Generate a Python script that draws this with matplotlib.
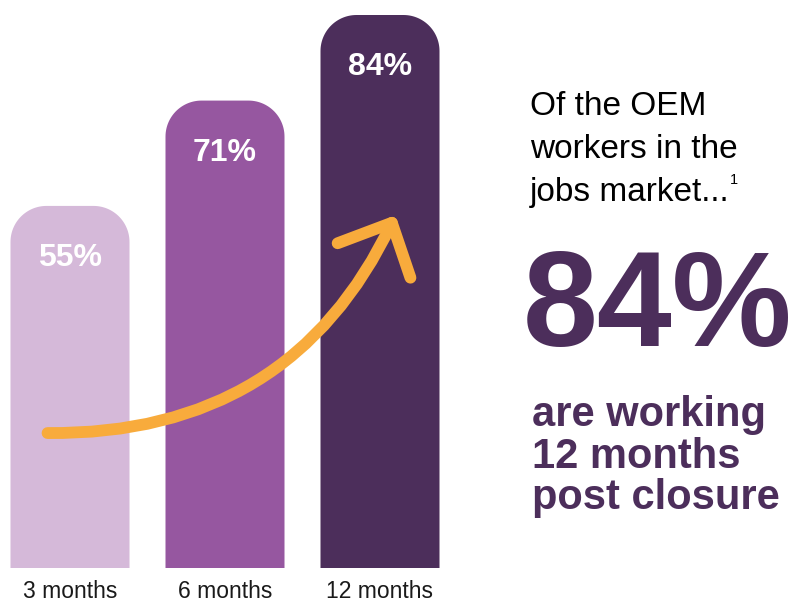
import numpy as np
import matplotlib
matplotlib.use("Agg")
import matplotlib.pyplot as plt
from matplotlib.patches import Polygon

# datos
periodos = ["3 months", "6 months", "12 months"]
porcentajes = [55, 71, 84]
colores = ["#D5B9D9", "#9657A0", "#4C2E5B"]
titulo_lineas = ["Of the OEM", "workers in the", "jobs market..."]
nota = "1"
cifra_destacada = "84%"
pie_lineas = ["are working", "12 months", "post closure"]

MORADO = "#4C2E5B"
NARANJA = "#F8AB3C"
FUENTE = ["Liberation Sans", "DejaVu Sans"]

W, H = 796, 602
fig = plt.figure(figsize=(W / 100, H / 100), dpi=100)

# eje de barras: 0% en y=568 px, 84% en y=15 px
x_izq, x_der = -70 / 155, (460 - 70) / 155
ax = fig.add_axes([0, (H - 568) / H, 460 / W, (568 - 15) / H])
ax.set_xlim(x_izq, x_der)
ax.set_ylim(0, 84)
ax.axis("off")

ancho = 119 / 155
px_x = 460 / (x_der - x_izq)
px_y = (568 - 15) / 84


def barra_redondeada(ax, x, alto, ancho, color, radio_px=36):
    """Barra con las esquinas superiores redondeadas"""
    rx = radio_px / px_x
    ry = radio_px / px_y
    izq, der = x - ancho / 2, x + ancho / 2
    t = np.linspace(0, np.pi / 2, 30)
    # esquina derecha (de 0 a 90 grados) y luego la izquierda
    der_x = der - rx + rx * np.cos(t)
    der_y = alto - ry + ry * np.sin(t)
    izq_x = izq + rx - rx * np.cos(t[::-1])
    izq_y = alto - ry + ry * np.sin(t[::-1])
    xs = np.concatenate([[der], der_x, izq_x, [izq]])
    ys = np.concatenate([[0], der_y, izq_y, [0]])
    ax.add_patch(Polygon(np.column_stack([xs, ys]), closed=True,
                         facecolor=color, edgecolor="none", clip_on=False))


for i, (periodo, valor, color) in enumerate(zip(periodos, porcentajes, colores)):
    barra_redondeada(ax, i, valor, ancho, color)
    ax.text(i, valor - 7.9, f"{valor}%", ha="center", va="center",
            color="white", fontsize=23, fontweight="bold", family=FUENTE)
    ax.text(i, -3.6, periodo, ha="center", va="center",
            color="#1a1a1a", fontsize=16.5, family=FUENTE)

# flecha de crecimiento
ax.annotate("", xy=(2.1, 53.6), xytext=(-0.145, 20.5),
            arrowprops=dict(arrowstyle="->,head_length=3.0,head_width=2.9",
                            mutation_scale=10, color=NARANJA, lw=8.5,
                            connectionstyle="arc3,rad=0.32",
                            shrinkA=0, shrinkB=0,
                            capstyle="round", joinstyle="round"))

# texto de la derecha, una línea cada vez
y_linea = 115
for linea in titulo_lineas:
    t = fig.text(530 / W, 1 - y_linea / H, linea, ha="left", va="baseline",
                 fontsize=24, color="black", family=FUENTE)
    y_linea += 43
ax.annotate(nota, xy=(1, 0), xycoords=t, xytext=(0.5, 15),
            textcoords="offset points", ha="left", va="bottom",
            fontsize=10.5, color="black", family=FUENTE)

fig.text(523 / W, 1 - 346 / H, cifra_destacada, ha="left", va="baseline",
         fontsize=97, fontweight="bold", color=MORADO, family=FUENTE)

y_linea = 426
for linea in pie_lineas:
    fig.text(532 / W, 1 - y_linea / H, linea, ha="left", va="baseline",
             fontsize=30, fontweight="bold", color=MORADO, family=FUENTE)
    y_linea += 41.5

fig.savefig("out.png", dpi=100, facecolor="white")
